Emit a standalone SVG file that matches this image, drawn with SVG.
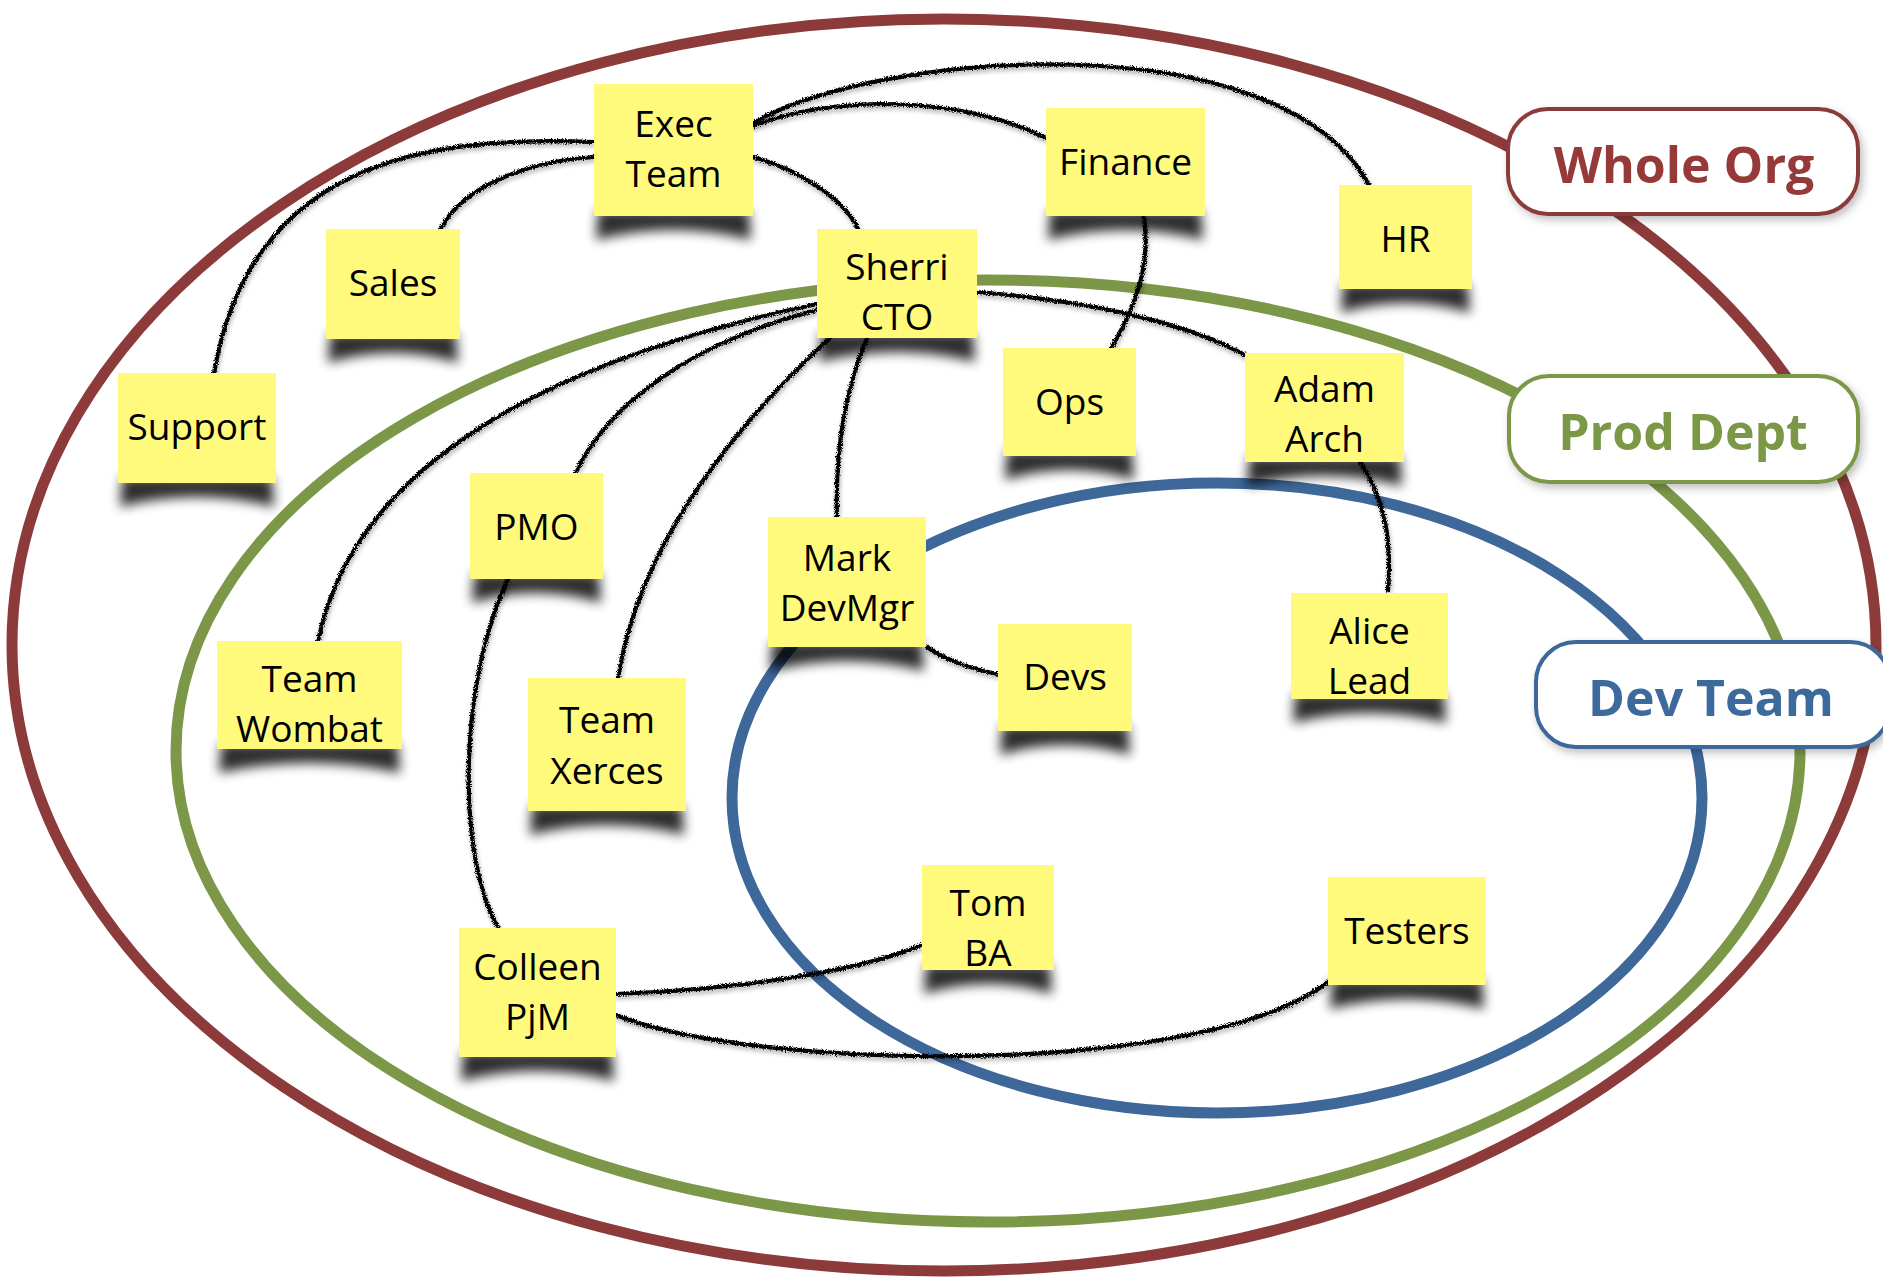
<svg xmlns="http://www.w3.org/2000/svg" width="1883" height="1282" viewBox="0 0 1883 1282">
  <defs>
    <filter id="chalk" filterUnits="userSpaceOnUse" x="0" y="0" width="1883" height="1282">
      <feTurbulence type="fractalNoise" baseFrequency="1.1" numOctaves="2" seed="3" result="noise"/>
      <feDisplacementMap in="SourceGraphic" in2="noise" scale="5" xChannelSelector="R" yChannelSelector="G" result="rough"/>
      <feGaussianBlur in="rough" stdDeviation="2" result="soft"/>
      <feOffset in="soft" dx="1" dy="3" result="moved"/>
      <feFlood flood-color="#000" flood-opacity="0.3"/>
      <feComposite in2="moved" operator="in" result="shade"/>
      <feMerge><feMergeNode in="shade"/><feMergeNode in="rough"/></feMerge>
    </filter>
    <filter id="curl" x="-20%" y="-60%" width="140%" height="220%">
      <feGaussianBlur stdDeviation="6"/>
    </filter>
    <filter id="tagshade" x="-10%" y="-20%" width="125%" height="150%">
      <feDropShadow dx="3" dy="4" stdDeviation="4" flood-color="#000" flood-opacity="0.25"/>
    </filter>
  </defs>
  <style>
    .ring { fill: none; stroke-width: 11; }
    .org { stroke: #8C3B3A; }
    .prod { stroke: #7B9747; }
    .dev { stroke: #3E6899; }
    .link { fill: none; stroke: #000; stroke-width: 4.2; stroke-linecap: round; }
    .note { fill: #FFFA7C; }
    .curl { fill: #000; opacity: 0.82; filter: url(#curl); }
    .nt { font-family: "Open Sans", "Noto Sans", sans-serif; font-size: 37px; fill: #000; text-anchor: middle; }
    .tag { fill: #fff; stroke-width: 4; filter: url(#tagshade); }
    .tt { font-family: "Open Sans", "Noto Sans", sans-serif; font-size: 50px; font-weight: 700; text-anchor: middle; }
  </style>
  <rect width="1883" height="1282" fill="#fff"/>

  <!-- scope rings -->
  <g id="rings">
    <ellipse class="ring org" cx="944" cy="645" rx="932" ry="626"/>
    <ellipse class="ring prod" cx="988" cy="751" rx="812" ry="471"/>
    <ellipse class="ring dev" cx="1217" cy="798" rx="485" ry="315"/>
  </g>

  <!-- hand-drawn relationship lines -->
  <g id="connectors" filter="url(#chalk)">
    <path class="link" d="M594,142 C420,135 250,165 214,373"/>
    <path class="link" d="M594,157 C520,162 460,190 440,230"/>
    <path class="link" d="M753,123 C880,50 1280,20 1369,185"/>
    <path class="link" d="M753,126 C830,95 960,95 1046,138"/>
    <path class="link" d="M753,157 C800,170 845,200 858,229"/>
    <path class="link" d="M1144,216 C1150,260 1140,300 1111,348"/>
    <path class="link" d="M817,304 C600,350 360,440 318,641"/>
    <path class="link" d="M817,310 C700,340 610,400 576,472"/>
    <path class="link" d="M830,338 C740,420 640,540 618,678"/>
    <path class="link" d="M867,338 C845,390 835,450 837,518"/>
    <path class="link" d="M977,292 C1080,300 1180,320 1245,355"/>
    <path class="link" d="M1360,462 C1385,500 1392,540 1388,590"/>
    <path class="link" d="M927,647 C945,660 975,670 998,674"/>
    <path class="link" d="M508,579 C460,680 455,850 498,928"/>
    <path class="link" d="M616,994 C720,990 850,975 922,945"/>
    <path class="link" d="M616,1015 C750,1070 1200,1080 1328,982"/>
  </g>

  <!-- sticky notes -->
  <g id="node-exec-team">
    <path class="curl" d="M598,210 H749 L751,240 Q673,220 596,240 Z"/>
    <rect class="note" x="594" y="84" width="159" height="132"/>
    <text class="nt" x="673.5" y="137">Exec</text>
    <text class="nt" x="673.5" y="187">Team</text>
  </g>
  <g id="node-finance">
    <path class="curl" d="M1050,210 H1201 L1203,240 Q1125,220 1048,240 Z"/>
    <rect class="note" x="1046" y="108" width="159" height="108"/>
    <text class="nt" x="1125.5" y="175">Finance</text>
  </g>
  <g id="node-hr">
    <path class="curl" d="M1343,283 H1468 L1470,313 Q1405,293 1341,313 Z"/>
    <rect class="note" x="1339" y="185" width="133" height="104"/>
    <text class="nt" x="1405.5" y="252">HR</text>
  </g>
  <g id="node-sherri-cto">
    <path class="curl" d="M821,332 H973 L975,362 Q897,342 819,362 Z"/>
    <rect class="note" x="817" y="229" width="160" height="109"/>
    <text class="nt" x="897" y="280">Sherri</text>
    <text class="nt" x="897" y="330">CTO</text>
  </g>
  <g id="node-sales">
    <path class="curl" d="M330,333 H456 L458,363 Q393,343 328,363 Z"/>
    <rect class="note" x="326" y="229" width="134" height="110"/>
    <text class="nt" x="393" y="296">Sales</text>
  </g>
  <g id="node-support">
    <path class="curl" d="M122,477 H272 L274,507 Q197,487 120,507 Z"/>
    <rect class="note" x="118" y="373" width="158" height="110"/>
    <text class="nt" x="197" y="440">Support</text>
  </g>
  <g id="node-ops">
    <path class="curl" d="M1007,450 H1132 L1134,480 Q1069.5,460 1005,480 Z"/>
    <rect class="note" x="1003" y="348" width="133" height="108"/>
    <text class="nt" x="1069.5" y="415">Ops</text>
  </g>
  <g id="node-adam-arch">
    <path class="curl" d="M1249,456 H1400 L1402,486 Q1324.5,466 1247,486 Z"/>
    <rect class="note" x="1245" y="353" width="159" height="109"/>
    <text class="nt" x="1324.5" y="402">Adam</text>
    <text class="nt" x="1324.5" y="452">Arch</text>
  </g>
  <g id="node-pmo">
    <path class="curl" d="M474,573 H599 L601,603 Q536.5,583 472,603 Z"/>
    <rect class="note" x="470" y="473" width="133" height="106"/>
    <text class="nt" x="536.5" y="540">PMO</text>
  </g>
  <g id="node-mark-devmgr">
    <path class="curl" d="M772,641 H922 L924,671 Q847,651 770,671 Z"/>
    <rect class="note" x="768" y="517" width="158" height="130"/>
    <text class="nt" x="847" y="571">Mark</text>
    <text class="nt" x="847" y="621">DevMgr</text>
  </g>
  <g id="node-devs">
    <path class="curl" d="M1002,725 H1128 L1130,755 Q1065,735 1000,755 Z"/>
    <rect class="note" x="998" y="624" width="134" height="107"/>
    <text class="nt" x="1065" y="690">Devs</text>
  </g>
  <g id="node-alice-lead">
    <path class="curl" d="M1295,693 H1444 L1446,723 Q1369.5,703 1293,723 Z"/>
    <rect class="note" x="1291" y="593" width="157" height="106"/>
    <text class="nt" x="1369.5" y="644">Alice</text>
    <text class="nt" x="1369.5" y="694">Lead</text>
  </g>
  <g id="node-team-wombat">
    <path class="curl" d="M221,743 H398 L400,773 Q309.5,753 219,773 Z"/>
    <rect class="note" x="217" y="641" width="185" height="108"/>
    <text class="nt" x="309.5" y="692">Team</text>
    <text class="nt" x="309.5" y="742">Wombat</text>
  </g>
  <g id="node-team-xerces">
    <path class="curl" d="M532,805 H682 L684,835 Q607,815 530,835 Z"/>
    <rect class="note" x="528" y="678" width="158" height="133"/>
    <text class="nt" x="607" y="733">Team</text>
    <text class="nt" x="607" y="784">Xerces</text>
  </g>
  <g id="node-tom-ba">
    <path class="curl" d="M926,964 H1050 L1052,994 Q988,974 924,994 Z"/>
    <rect class="note" x="922" y="865" width="132" height="105"/>
    <text class="nt" x="988" y="916">Tom</text>
    <text class="nt" x="988" y="966">BA</text>
  </g>
  <g id="node-testers">
    <path class="curl" d="M1332,979 H1482 L1484,1009 Q1407,989 1330,1009 Z"/>
    <rect class="note" x="1328" y="877" width="158" height="108"/>
    <text class="nt" x="1407" y="944">Testers</text>
  </g>
  <g id="node-colleen-pjm">
    <path class="curl" d="M463,1051 H612 L614,1081 Q537.5,1061 461,1081 Z"/>
    <rect class="note" x="459" y="928" width="157" height="129"/>
    <text class="nt" x="537.5" y="980">Colleen</text>
    <text class="nt" x="537.5" y="1030">PjM</text>
  </g>

  <!-- ring name tags -->
  <g id="tag-whole-org">
    <rect class="tag org" x="1508" y="109" width="350" height="105" rx="40"/>
    <text class="tt" x="1684" y="183" fill="#953A38">Whole Org</text>
  </g>
  <g id="tag-prod-dept">
    <rect class="tag prod" x="1509" y="376" width="349" height="106" rx="40"/>
    <text class="tt" x="1683" y="450" fill="#7A9846">Prod Dept</text>
  </g>
  <g id="tag-dev-team">
    <rect class="tag dev" x="1536" y="642" width="354" height="105" rx="40"/>
    <text class="tt" x="1711" y="716" fill="#3D6A9C">Dev Team</text>
  </g>
</svg>
